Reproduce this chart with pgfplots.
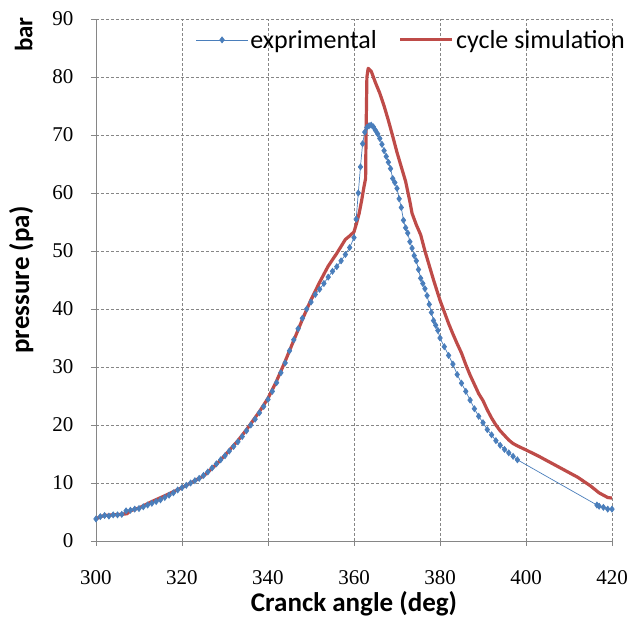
\documentclass[border=0pt]{standalone}
\usepackage{fontspec}
\setmainfont{Liberation Serif}
\newfontfamily\calib{Carlito}
\usepackage{pgfplots}
\pgfplotsset{compat=1.18}
\definecolor{expblue}{HTML}{4A7EBB}
\definecolor{simred}{HTML}{BE4B48}
\definecolor{gridgray}{HTML}{868686}
\begin{document}
\begin{tikzpicture}
\begin{axis}[
  scale only axis, width=516pt, height=522pt,
  xmin=300, xmax=420, ymin=0, ymax=90,
  xtick={300,320,...,420}, ytick={0,10,...,90},
  axis x line=bottom, axis y line=left,
  axis line style={-, gridgray, line width=0.8pt},
  tick align=outside, major tick length=5pt,
  tick style={gridgray, line width=0.8pt},
  grid=major,
  major grid style={gridgray, dash pattern=on 3pt off 2pt, line width=0.8pt},
  /pgf/number format/assume math mode=true,
  /pgf/number format/1000 sep={},
  ticklabel style={font=\fontsize{21}{24}\selectfont},
  xticklabel style={yshift=-21pt},
  yticklabel style={xshift=-14pt},
  xlabel={\calib\bfseries Cranck angle (deg)},
  ylabel={\calib\bfseries pressure (pa)},
  every axis x label/.style={at={(axis description cs:0.5,-0.12)}, anchor=center, font=\fontsize{27}{30}\selectfont},
  every axis y label/.style={at={(axis description cs:-0.145,0.5)}, anchor=center, rotate=90, font=\fontsize{27}{30}\selectfont},
  clip=false,
  legend columns=2,
  legend style={at={(axis description cs:1.035,0.96)}, anchor=east, draw=none, fill=none,
    font=\calib\fontsize{26}{28}\selectfont, /tikz/every even column/.append style={column sep=20pt}},
  legend image code/.code={\draw[mark repeat=2,mark phase=2,#1] plot coordinates {(0pt,0pt) (26pt,0pt) (52pt,0pt)};},
]
\addplot[expblue, line width=0.7pt, mark=diamond*, mark size=3pt, mark options={fill=expblue, draw=expblue}] coordinates {
(300,3.8)(301,4.2)(302,4.4)(303,4.3)(304,4.5)(305,4.5)(306,4.6)(307,5.2)(308,5.3)(309,5.5)
(310,5.6)(311,5.9)(312,6.2)(313,6.5)(314,6.8)(315,7.1)(316,7.5)(317,7.9)(318,8.3)(319,8.8)
(320,9.2)(321,9.6)(322,10.0)(323,10.4)(324,10.8)(325,11.3)(326,11.9)(327,12.6)(328,13.3)(329,14.0)
(330,14.7)(331,15.5)(332,16.3)(333,17.1)(334,18.0)(335,19.0)(336,20.0)(337,21.0)(338,22.1)(339,23.2)
(340,24.4)(341,25.8)(342,27.3)(343,29.0)(344,30.7)(345,32.8)(346,34.7)(347,36.6)(348,38.4)(349,40.0)
(350,41.2)(351,42.5)(352,43.4)(353,44.4)(354,45.5)(355,46.5)(356,47.3)(357,48.3)(358,49.4)(359,50.6)
(360,52.3)(360.5,55.5)(361,60)(361.5,64.5)(362,68.5)(362.5,70.5)(363,71.3)(363.5,71.6)(364,71.7)(364.5,71.4)
(365,70.8)(365.5,70.2)(366,69.4)(366.5,68.4)(367,67.3)(367.5,66.3)(368,65.3)(368.5,64.2)(369,62.5)(369.5,61.8)
(370,60.8)(370.5,59.0)(371,57.5)(371.5,55.3)(372,54.0)(372.5,53.1)(373,51.6)(373.5,50.5)(374,49.2)(374.5,48.3)
(375,46.8)(375.5,45.3)(376,44.4)(376.5,43.5)(377,42.3)(377.5,40.8)(378,39.4)(378.5,38.0)(379,37.2)(379.5,36.3)
(380,35.0)(381,33.5)(382,32.0)(383,30.5)(384,28.7)(385,27.2)(386,25.8)(387,24.3)(388,22.8)(389,21.5)
(390,20.4)(391,19.2)(392,18.3)(393,17.3)(394,16.5)(395,15.8)(396,15.2)(397,14.6)(398,14.0)
(416.5,6.2)(417,6.0)(418,5.8)(419,5.5)(420,5.5)
};
\addlegendentry{exprimental}
\addplot[simred, line width=3.2pt, line join=round] coordinates {
(300,3.8)(301,4.2)(302,4.4)(304,4.5)(306,4.6)(307.2,4.7)(308,5.2)(310,5.7)(313,6.8)(316,7.8)
(320,9.2)(323,10.4)(325,11.2)(328,13.2)(330,14.8)(333,17.3)(335,19.2)(338,22.3)(340,24.6)(342,27.6)
(344,31)(346,34.6)(348,38.2)(350,41.6)(352,44.6)(354,47.4)(355,48.5)(356,49.6)(357,50.8)(358,52.0)
(359,52.6)(360,53.3)(360.6,54.8)(361.2,56.5)(361.8,58.8)(362.3,61)(362.7,62.5)(362.8,70)(363.0,80)(363.3,81.5)
(364,81)(365,79)(366,77.2)(367,75)(368,72.5)(369,69.8)(370,67)(371,64.5)(372,62)(373,58.5)
(373.5,56.5)(374.5,54.5)(375.5,52.8)(376.5,50)(377.5,47.5)(378.5,45)(380,41.5)(381,39.5)(382,37.5)(383,35.7)
(384,34)(385,32.4)(386,30.4)(387,28.6)(388,27)(389,25.4)(390,24.2)(391,22.6)(392,21.2)(393,20)
(394,19.0)(395,18.2)(396,17.4)(397,16.8)(398,16.4)(400,15.7)(403,14.6)(406,13.4)(409,12.2)(412,11.0)
(415,9.5)(417,8.3)(419,7.5)(420,7.4)
};
\addlegendentry{cycle simulation}
\node[rotate=90, font=\calib\bfseries\fontsize{25}{28}\selectfont] at (axis description cs:-0.14,0.97) {bar};
\end{axis}
\path ([xshift=-96pt,yshift=-76pt]current axis.south west) rectangle ++(632pt,617pt);
\end{tikzpicture}
\end{document}
